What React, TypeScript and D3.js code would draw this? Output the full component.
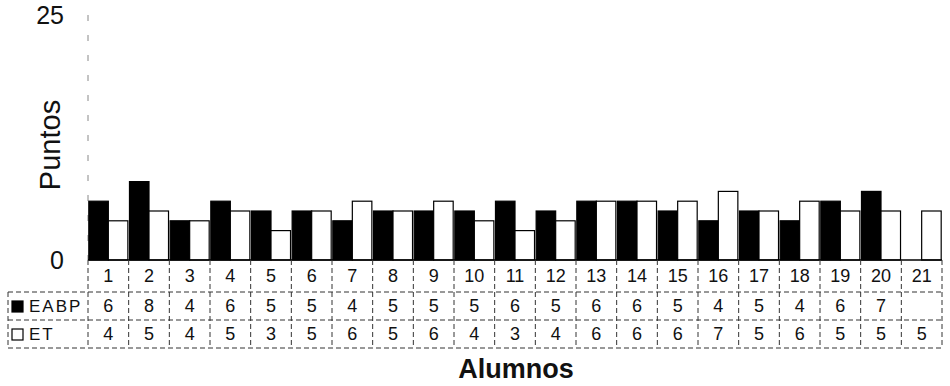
import React from "react";
import * as d3 from "d3";

const categories = ["1","2","3","4","5","6","7","8","9","10","11","12","13","14","15","16","17","18","19","20","21"];
const eabp: (number | null)[] = [6,8,4,6,5,5,4,5,5,5,6,5,6,6,5,4,5,4,6,7,null];
const et: (number | null)[] = [4,5,4,5,3,5,6,5,6,4,3,4,6,6,6,7,5,6,5,5,5];
const seriesNames = ["EABP", "ET"];
const yTicks = [0, 25];

const W = 950, H = 386;
const left = 88, right = 942, top = 15, base = 260;
const rowH = [32, 28, 28];
const FONT = "'Liberation Sans', Arial, sans-serif";

export default function App() {
  const x = d3.scaleBand<string>().domain(categories).range([left, right]).paddingInner(0.04).paddingOuter(0.02);
  const cell = d3.scaleBand<string>().domain(categories).range([left, right]).padding(0);
  const inner = d3.scaleBand<string>().domain(seriesNames).range([0, x.bandwidth()]).padding(0);
  const y = d3.scaleLinear().domain([0, 25]).range([base, top]);

  const r0 = base, r1 = base + rowH[0], r2 = r1 + rowH[1], r3 = r2 + rowH[2];
  const series = [eabp, et];
  const dash = "5,3";
  const gridColor = "#333";

  return (
    <svg width={W} height={H} style={{ display: "block", position: "absolute", left: 0, top: 0 }} fontFamily={FONT}>
      <rect width={W} height={H} fill="#fff" />
      {/* y axis */}
      <line x1={left} x2={left} y1={top} y2={base} stroke="#888" strokeDasharray="6,14" />
      {yTicks.map(t => (
        <text key={t} x={64} y={y(t)} dy="0.35em" textAnchor="end" fontSize={25} fill="#111">{t}</text>
      ))}
      <text transform={`translate(60,145) rotate(-90)`} textAnchor="middle" fontSize={29} fill="#111">Puntos</text>

      {/* bars */}
      {series.map((vals, si) =>
        vals.map((v, i) => v == null ? null : (
          <rect key={`${si}-${i}`}
            x={(x(categories[i]) ?? 0) + (inner(seriesNames[si]) ?? 0)}
            y={y(v)} width={inner.bandwidth()} height={base - y(v)}
            fill={si === 0 ? "#000" : "#fff"} stroke="#000" strokeWidth={1.2} />
        ))
      )}
      <line x1={left} x2={right} y1={base} y2={base} stroke="#000" strokeWidth={1.5} />

      {/* data table */}
      <g stroke={gridColor} strokeWidth={1} strokeDasharray={dash} fill="none">
        <line x1={8} x2={right} y1={r1} y2={r1} />
        <line x1={8} x2={right} y1={r2} y2={r2} />
        <line x1={8} x2={right} y1={r3} y2={r3} />
        <line x1={8} x2={8} y1={r1} y2={r3} />
        {categories.map(c => (
          <line key={c} x1={cell(c)} x2={cell(c)} y1={r0} y2={r3} />
        ))}
        <line x1={right} x2={right} y1={r0} y2={r3} />
      </g>
      {categories.map(c => (
        <text key={c} x={(cell(c) ?? 0) + cell.bandwidth() / 2} y={(r0 + r1) / 2} dy="0.35em" textAnchor="middle" fontSize={18} fill="#111">{c}</text>
      ))}
      {series.map((vals, si) =>
        vals.map((v, i) => v == null ? null : (
          <text key={`t${si}-${i}`} x={(cell(categories[i]) ?? 0) + cell.bandwidth() / 2}
            y={si === 0 ? (r1 + r2) / 2 : (r2 + r3) / 2} dy="0.35em" textAnchor="middle" fontSize={18} fill="#111">{v}</text>
        ))
      )}
      {/* legend keys */}
      {seriesNames.map((s, si) => {
        const cy = si === 0 ? (r1 + r2) / 2 : (r2 + r3) / 2;
        return (
          <g key={s}>
            <rect x={12} y={cy - 5} width={11} height={11} fill={si === 0 ? "#000" : "#fff"} stroke="#000" strokeWidth={1.2} />
            <text x={29} y={cy} dy="0.35em" fontSize={17} letterSpacing={2} fill="#111">{s}</text>
          </g>
        );
      })}
      <text x={516} y={369} dy="0.35em" textAnchor="middle" fontSize={27} fontWeight="bold" fill="#111">Alumnos</text>
    </svg>
  );
}
